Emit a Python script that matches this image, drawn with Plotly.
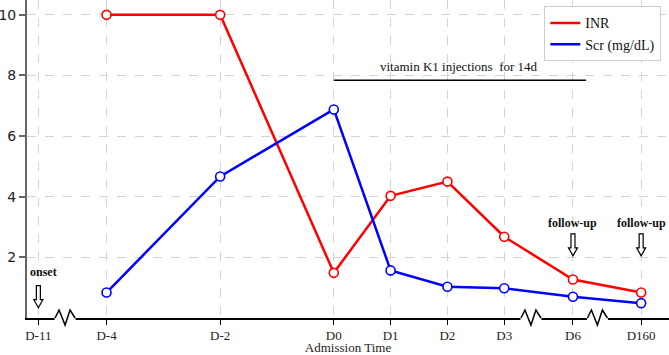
import plotly.graph_objects as go

# ---- data ----
categories = ["D-11", "D-4", "D-2", "D0", "D1", "D2", "D3", "D6", "D160"]
inr = [None, 10, 10, 1.49, 4.03, 4.50, 2.68, 1.27, 0.84]
scr = [None, 0.84, 4.67, 6.88, 1.57, 1.03, 0.98, 0.70, 0.49]

# broken-axis scale: position of each day label on the drawn axis
axis_pos = {"D-11": -5.2, "D-4": -4, "D-2": -2, "D0": 0, "D1": 1, "D2": 2,
            "D3": 3, "D6": 4.21, "D160": 5.41}
x = [axis_pos[c] for c in categories]

SERIF = "Liberation Serif"
RED = "#ff0000"
BLUE = "#0000ff"

fig = go.Figure()
for name, vals, col in [("INR", inr, RED), ("Scr (mg/dL)", scr, BLUE)]:
    fig.add_trace(go.Scatter(
        x=x, y=vals, mode="lines+markers", name=name, showlegend=False,
        line=dict(color=col, width=2.5),
        marker=dict(symbol="circle", size=9, color="white",
                    line=dict(color=col, width=1.6)),
        cliponaxis=False))
for name, col in [("INR", RED), ("Scr (mg/dL)", BLUE)]:
    fig.add_trace(go.Scatter(x=[None], y=[None], mode="lines", name=name,
                             line=dict(color=col, width=2.5)))

shapes = []
# axis breaks (zigzag) on the x axis
for bx in [-4.73, 3.47, 4.64]:
    shapes.append(dict(type="line", xref="x", yref="paper", xsizemode="pixel",
                       ysizemode="pixel", xanchor=bx, yanchor=0,
                       x0=-10.5, x1=10.5, y0=0, y1=0,
                       line=dict(color="white", width=4)))
    shapes.append(dict(type="path", xref="x", yref="paper", xsizemode="pixel",
                       ysizemode="pixel", xanchor=bx, yanchor=0,
                       path="M-10,0 L-6,8 L0,-7 L5,8 L10,0",
                       line=dict(color="black", width=1.5)))

# hollow down arrows
arrow_path = "M0,0 L-4.5,8 L-2,8 L-2,22 L2,22 L2,8 L4.5,8 Z"
for ax_, tip in [(axis_pos["D-11"], 0.34), (axis_pos["D6"], 2.05), (axis_pos["D160"], 2.05)]:
    shapes.append(dict(type="path", xref="x", yref="y", xsizemode="pixel",
                       ysizemode="pixel", xanchor=ax_, yanchor=tip,
                       path=arrow_path, fillcolor="white",
                       line=dict(color="black", width=1.2)))

# treatment bar
shapes.append(dict(type="line", xref="x", yref="y", x0=0, x1=4.44, y0=7.84, y1=7.84,
                   line=dict(color="black", width=1.5)))

annotations = [
    dict(x=2.2, y=8.31, xref="x", yref="y", text="vitamin K1 injections  for 14d",
         showarrow=False, font=dict(family=SERIF, size=13, color="#111")),
    dict(x=-5.107, y=1.53, xref="x", yref="y", text="<b>onset</b>",
         showarrow=False, font=dict(family=SERIF, size=12, color="#111")),
    dict(x=axis_pos["D6"], y=3.13, xref="x", yref="y", text="<b>follow-up</b>",
         showarrow=False, font=dict(family=SERIF, size=12, color="#111")),
    dict(x=axis_pos["D160"], y=3.13, xref="x", yref="y", text="<b>follow-up</b>",
         showarrow=False, font=dict(family=SERIF, size=12, color="#111")),
]

fig.update_layout(
    width=669, height=355,
    margin=dict(l=27, r=0, t=0, b=37),
    paper_bgcolor="white", plot_bgcolor="white",
    shapes=shapes, annotations=annotations,
    legend=dict(x=0.988, y=0.98, xanchor="right", yanchor="top",
                bgcolor="white", bordercolor="#cccccc", borderwidth=1,
                font=dict(family=SERIF, size=14, color="#111"),
                tracegroupgap=0),
    xaxis=dict(range=[-5.40, 5.90], tickmode="array", tickvals=x, ticktext=categories,
               automargin=False,
               showline=True, linecolor="black", linewidth=1.5,
               ticks="outside", ticklen=5, tickcolor="black", tickwidth=1.2,
               showgrid=True, gridcolor="#d4d4d4", griddash="dash", gridwidth=1,
               zeroline=False,
               tickfont=dict(family=SERIF, size=13, color="#222"),
               title=dict(text="Admission Time", standoff=0,
                          font=dict(family=SERIF, size=13, color="#222"))),
    yaxis=dict(range=[0, 10.49], tickmode="array", tickvals=[2, 4, 6, 8, 10],
               automargin=False,
               showline=True, linecolor="#666666", linewidth=2,
               ticks="outside", ticklen=6, tickcolor="#666666", tickwidth=1.5,
               showgrid=True, gridcolor="#d4d4d4", griddash="dash", gridwidth=1,
               zeroline=False,
               tickfont=dict(family="DejaVu Sans", size=14, color="#222")),
)

fig.write_html("out.html", config={"displayModeBar": False},
               post_script="document.body.style.margin='0';")
